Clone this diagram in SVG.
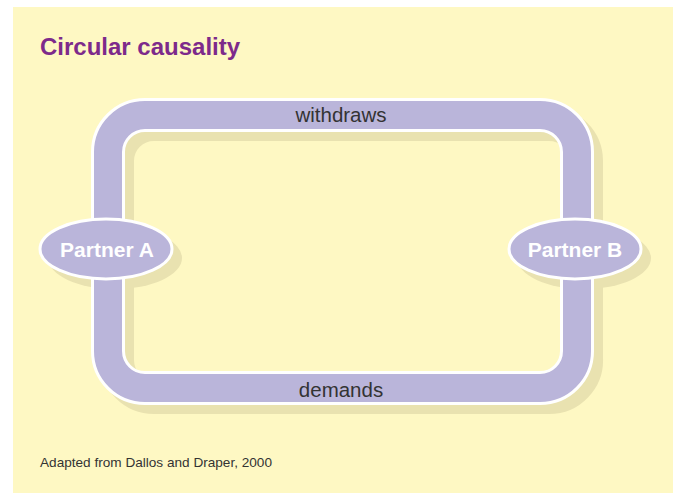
<svg xmlns="http://www.w3.org/2000/svg" width="673" height="494" viewBox="0 0 673 494">
<style>
.bg{fill:#fef8c3}
.shadow{fill:none;stroke:#e9e2b0;stroke-width:34}
.edge-o{fill:none;stroke:#ffffff;stroke-width:34}
.edge{fill:none;stroke:#bab5da;stroke-width:28}
.node{fill:#bab5da;stroke:#ffffff;stroke-width:3}
.nshadow{fill:#e9e2b0}
.title{font-family:"Liberation Sans",Arial,sans-serif;font-weight:bold;font-size:24px;fill:#7d2a8b}
.lbl{font-family:"Liberation Sans",Arial,sans-serif;font-size:20.5px;fill:#333333;text-anchor:middle}
.ntext{font-family:"Liberation Sans",Arial,sans-serif;font-weight:bold;font-size:21px;fill:#ffffff;text-anchor:middle}
.foot{font-family:"Liberation Sans",Arial,sans-serif;font-size:13.6px;fill:#333333}
</style>
<rect class="bg" x="13" y="7" width="660" height="486"/>
<text class="title" x="40" y="55">Circular causality</text>
<g id="shadows">
<path class="shadow" d="M117 259 V161 A37 37 0 0 1 154 124 H549 A37 37 0 0 1 586 161 V358 A37 37 0 0 1 549 397 H154 A37 37 0 0 1 117 360 Z"/>
<ellipse class="nshadow" cx="115" cy="258" rx="67" ry="31"/>
<ellipse class="nshadow" cx="584" cy="258" rx="67" ry="31"/>
</g>
<g id="connectors">
<g id="edge-withdraws">
<path class="edge-o" d="M108 250 V152 A37 37 0 0 1 145 115 H540 A37 37 0 0 1 577 152 V250"/>
<path class="edge" d="M108 250 V152 A37 37 0 0 1 145 115 H540 A37 37 0 0 1 577 152 V250"/>
<text class="lbl" x="341" y="122">withdraws</text>
</g>
<g id="edge-demands">
<path class="edge-o" d="M108 250 V351 A37 37 0 0 0 145 388 H540 A37 37 0 0 0 577 351 V250"/>
<path class="edge" d="M108 250 V351 A37 37 0 0 0 145 388 H540 A37 37 0 0 0 577 351 V250"/>
<text class="lbl" x="341" y="397">demands</text>
</g>
</g>
<g id="partner-a">
<ellipse class="node" cx="106" cy="249" rx="66" ry="30"/>
<text class="ntext" x="107" y="257">Partner A</text>
</g>
<g id="partner-b">
<ellipse class="node" cx="575" cy="249" rx="66" ry="30"/>
<text class="ntext" x="575" y="257">Partner B</text>
</g>
<text class="foot" x="40" y="467">Adapted from Dallos and Draper, 2000</text>
</svg>
